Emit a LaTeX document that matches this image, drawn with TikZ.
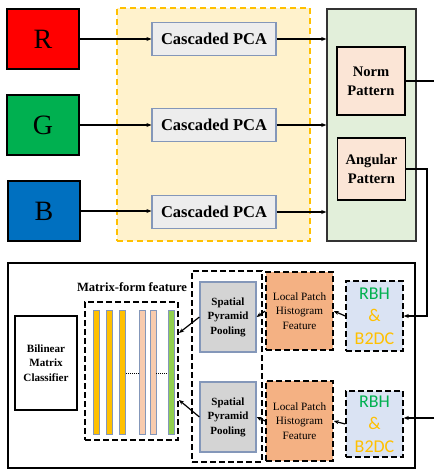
\documentclass[tikz,border=0pt]{standalone}
\usepackage{fontspec}
\setmainfont{Liberation Serif}
\newfontfamily\calibfont{Carlito}
\usetikzlibrary{arrows.meta}

\definecolor{chred}{RGB}{255,0,0}
\definecolor{chgreen}{RGB}{0,176,80}
\definecolor{chblue}{RGB}{0,112,192}
\definecolor{areafill}{RGB}{255,242,204}
\definecolor{areadraw}{RGB}{255,192,0}
\definecolor{pcafill}{RGB}{237,237,237}
\definecolor{pcadraw}{RGB}{132,151,185}
\definecolor{panelfill}{RGB}{226,239,218}
\definecolor{patfill}{RGB}{251,229,214}
\definecolor{sppfill}{RGB}{212,212,212}
\definecolor{lphfill}{RGB}{244,177,131}
\definecolor{rbhfill}{RGB}{218,227,243}
\definecolor{baryel}{RGB}{255,192,0}
\definecolor{barpink}{RGB}{248,203,173}
\definecolor{bargrn}{RGB}{146,208,80}

\tikzset{
	chan/.style={draw=black, line width=1.5, minimum width=72, minimum height=60, font=\fontsize{28}{30}\selectfont},
	pcaregion/.style={draw=areadraw, fill=areafill, line width=1.5, dash pattern=on 6 off 4, minimum width=193, minimum height=233},
	pcabox/.style={draw=pcadraw, fill=pcafill, line width=1.2, minimum width=124, minimum height=33, font=\fontsize{16.5}{18}\selectfont\bfseries},
	patpanel/.style={draw=black!80, fill=panelfill, line width=1.5, minimum width=89, minimum height=232},
	patbox/.style={draw=black, fill=patfill, line width=1.5, minimum width=68, align=center, font=\fontsize{14.6}{19}\selectfont\bfseries},
	dashbox/.style={draw=black, line width=1.5, dash pattern=on 6 off 3},
	plainbox/.style={draw=black, line width=1.5, align=center, font=\fontsize{11.1}{14.5}\selectfont\bfseries},
	sppnode/.style={draw=pcadraw, fill=sppfill, line width=1.2, minimum width=56, minimum height=70, align=center, font=\fontsize{11}{14.5}\selectfont\bfseries},
	lphnode/.style={dashbox, fill=lphfill, minimum width=67, align=center, font=\fontsize{11.2}{14.5}\selectfont},
	rbhnode/.style={dashbox, fill=rbhfill, minimum width=57, align=center, font=\calibfont\fontsize{18}{22.5}\selectfont},
	bar/.style={draw=pcadraw, line width=0.8},
	arrow/.style={-{Stealth[length=5, width=4]}, line width=1.2}
}

\begin{document}
\begin{tikzpicture}[x=1pt,y=-1pt]
\useasboundingbox (0,0) rectangle (434,470);

% colour channels and cascaded PCA
\node (pcaarea) at (213.5,124.5) [pcaregion] {};
\node (panel) at (371.5,125) [patpanel] {};

\node (r) at (43,39) [chan,fill=chred] {R};
\node (g) at (43,125) [chan,fill=chgreen] {G};
\node (b) at (44,211) [chan,fill=chblue] {B};

\node (pcar) at (214,39) [pcabox] {Cascaded PCA};
\node (pcag) at (214,125) [pcabox] {Cascaded PCA};
\node (pcab) at (214,212) [pcabox] {Cascaded PCA};

\node (norm) at (371,81) [patbox,minimum height=68] {Norm\\Pattern};
\node (angular) at (371.5,169) [patbox,minimum height=62] {Angular\\Pattern};

\draw [arrow] (r.east) -- (r.east -| pcar.west);
\draw [arrow] (g.east) -- (g.east -| pcag.west);
\draw [arrow] (b.east) -- (b.east -| pcab.west);
\draw [arrow] (pcar.east) -- (pcar.east -| panel.west);
\draw [arrow] (pcag.east) -- (pcag.east -| panel.west);
\draw [arrow] (pcab.east) -- (pcab.east -| panel.west);

% classification stage
\node (stage) at (211.5,365.5) [draw, line width=1.5, minimum width=407, minimum height=205] {};

\node (mflabel) at (132,287) [font=\fontsize{12.6}{14}\selectfont\bfseries] {Matrix-form feature};
\node (bmc) at (46,363) [plainbox, minimum width=62, minimum height=94] {Bilinear\\Matrix\\Classifier};
\node (mat) at (131.5,371) [dashbox, minimum width=93, minimum height=138] {};
\foreach \x/\c in {96/baryel,109.5/baryel,122.5/baryel,142/barpink,153.5/barpink,171/bargrn}
	\draw [bar,fill=\c] (\x-3,310) rectangle (\x+3,434);
\draw [densely dotted, line width=1] (126,373) -- (139,373);
\draw [densely dotted, line width=1] (156,373) -- (168,373);

\node (sppbox) at (227,366.5) [dashbox, minimum width=70, minimum height=191] {};
\node (spp1) at (228,317) [sppnode] {Spatial\\Pyramid\\Pooling};
\node (spp2) at (228,417) [sppnode] {Spatial\\Pyramid\\Pooling};

\node (lph1) at (299.5,311) [lphnode, minimum height=78] {Local Patch\\Histogram\\Feature};
\node (lph2) at (299.5,421) [lphnode, minimum height=80] {Local Patch\\Histogram\\Feature};

\node (rbh1) at (374.5,316) [rbhnode, minimum height=70] {\textcolor{chgreen}{RBH}\\\textcolor{areadraw}{\&}\\\textcolor{areadraw}{B2DC}};
\node (rbh2) at (374.5,424) [rbhnode, minimum height=66] {\textcolor{chgreen}{RBH}\\\textcolor{areadraw}{\&}\\\textcolor{areadraw}{B2DC}};

\coordinate (normout) at (434,81);
\coordinate (turn) at (427,316);
\coordinate (normin) at (434,418);
\coordinate (mat1) at (179,333);
\coordinate (mat2) at (179,400);

\draw [line width=1.2] (norm.east) -- (normout);
\draw [arrow] (angular.east) -| (turn) -- (rbh1.east);
\draw [arrow] (normin) -- (normin -| rbh2.east);

\draw [arrow] (rbh1.west) -- (lph1.east);
\draw [arrow] (rbh2.west) -- (lph2.east);
\draw [arrow] (lph1.west) -- (spp1.east);
\draw [arrow] (lph2.west) -- (spp2.east);
\draw [arrow] (spp1.west) -- (mat1);
\draw [arrow] (spp2.west) -- (mat2);

\end{tikzpicture}
\end{document}
